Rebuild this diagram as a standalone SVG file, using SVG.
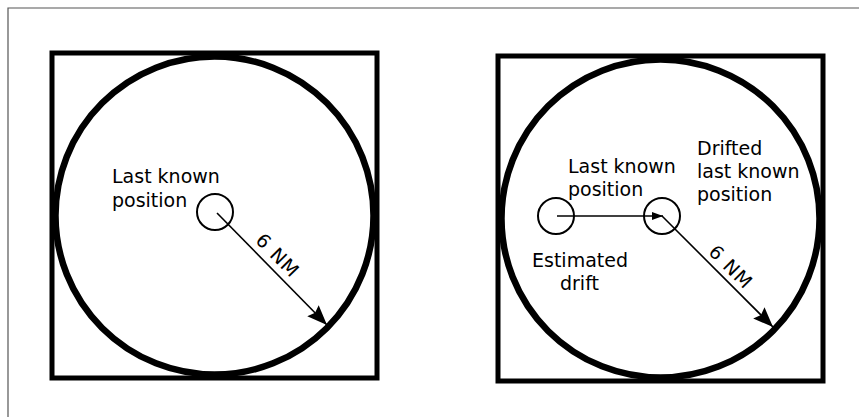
<svg xmlns="http://www.w3.org/2000/svg" width="859" height="417" viewBox="0 0 859 417">
<style>
.frame{fill:none;stroke:#555;stroke-width:1.2}
.sq{fill:none;stroke:#000;stroke-width:5}
.big{fill:none;stroke:#000;stroke-width:6.5}
.small{fill:none;stroke:#000;stroke-width:2}
.conn{fill:none;stroke:#000;stroke-width:1.6}
text{font-family:"DejaVu Sans","Open Sans",sans-serif;font-size:19px;fill:#000}
</style>
<defs>
<marker id="ah" markerUnits="userSpaceOnUse" markerWidth="22" markerHeight="18" refX="20" refY="8" orient="auto">
<path d="M0,0 L20,8 L0,16 L3,8 z" fill="#000"/>
</marker>
<marker id="ahs" markerUnits="userSpaceOnUse" markerWidth="12" markerHeight="8" refX="11" refY="4" orient="auto">
<path d="M0,0 L11,4 L0,8 z" fill="#000"/>
</marker>
</defs>
<rect width="859" height="417" fill="#fff"/>
<path class="frame" d="M8,417 L8,8 L859,8"/>
<g id="left-panel">
<rect class="sq" x="52" y="53" width="325" height="325"/>
<circle class="big" cx="214.5" cy="215.5" r="159"/>
</g>
<g id="left-lkp">
<circle class="small" cx="215" cy="212" r="18"/>
<text x="112" y="183">Last known</text>
<text x="112" y="207">position</text>
</g>
<g id="right-panel">
<rect class="sq" x="498" y="56" width="325" height="325"/>
<circle class="big" cx="660.5" cy="218.5" r="159"/>
</g>
<g id="right-lkp">
<circle class="small" cx="556" cy="216" r="18"/>
<text x="532" y="267">Estimated</text>
<text x="560" y="290">drift</text>
</g>
<g id="right-drifted">
<circle class="small" cx="662" cy="216" r="18"/>
<text x="568" y="173">Last known</text>
<text x="568" y="196">position</text>
<text x="697" y="155">Drifted</text>
<text x="697" y="178">last known</text>
<text x="697" y="201">position</text>
</g>
<g id="connectors">
<path class="conn" d="M217,213 L327,325" marker-end="url(#ah)"/>
<text transform="translate(268,265) rotate(45.5)" x="0" y="-7" text-anchor="middle" letter-spacing="1">6 NM</text>
<path class="conn" d="M557,216 L663,216" marker-end="url(#ahs)"/>
<path class="conn" d="M662,216 L773,327" marker-end="url(#ah)"/>
<text transform="translate(722,276) rotate(45)" x="0" y="-6" text-anchor="middle" letter-spacing="1">6 NM</text>
</g>
</svg>
